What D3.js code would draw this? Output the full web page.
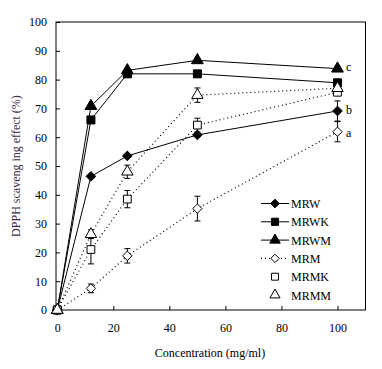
<!DOCTYPE html>
<html><head><meta charset="utf-8">
<script src="https://cdn.jsdelivr.net/npm/d3@7"></script>
<style>body{margin:0;background:#fff}svg{display:block}svg text{font-family:"Liberation Serif","Times New Roman",serif !important}</style>
</head><body>
<script>
const concentrations = [0, 12, 25, 50, 100];
const seriesNames = ["MRW", "MRWK", "MRWM", "MRM", "MRMK", "MRMM"];
const MRW  = [0, 46.4, 53.5, 60.8, 69.1];
const MRWK = [0, 66, 82, 82, 78.9];
const MRWM = [0, 70.8, 83.2, 86.7, 83.8];
const MRM  = [0, 7.5, 18.8, 35.2, 61.9];
const MRMK = [0, 21, 38.5, 64.2, 75.6];
const MRMM = [0, 26.3, 48, 74.6, 77];
const errMRW  = [0, 0, 0, 0, 3.5];
const errMRWK = [0, 0, 0, 0, 0];
const errMRWM = [0, 0, 0, 0, 0];
const errMRM  = [0, 1.5, 2.5, 4.3, 3.5];
const errMRMK = [0, 5, 3, 2.4, 0];
const errMRMM = [0, 1.5, 2.3, 2.5, 0];
const xTicks = [0, 20, 40, 60, 80, 100];
const yTicks = [0, 10, 20, 30, 40, 50, 60, 70, 80, 90, 100];
const sigLetters = ["c", "b", "a"];
const sigValues = [84.5, 69.5, 61.5];

const FONT = "Liberation Serif, Times New Roman, serif";
const series = [
  {name:"MRW", v:MRW, e:errMRW, sym:d3.symbolDiamond2, fill:"#000", dash:null},
  {name:"MRWK", v:MRWK, e:errMRWK, sym:d3.symbolSquare, fill:"#000", dash:null},
  {name:"MRWM", v:MRWM, e:errMRWM, sym:d3.symbolTriangle, fill:"#000", dash:null},
  {name:"MRM", v:MRM, e:errMRM, sym:d3.symbolDiamond2, fill:"#fff", dash:"1,3"},
  {name:"MRMK", v:MRMK, e:errMRMK, sym:d3.symbolSquare, fill:"#fff", dash:"1,3"},
  {name:"MRMM", v:MRMM, e:errMRMM, sym:d3.symbolTriangle, fill:"#fff", dash:"1,3"}
];
const symSize = {"MRW":60, "MRWK":64, "MRWM":60, "MRM":56, "MRMK":60, "MRMM":56};

const W = 382, H = 369;
const svg = d3.select("body").append("svg").attr("width", W).attr("height", H)
  .attr("font-family", FONT);
const x = d3.scaleLinear().domain([0, 110]).range([57.3, 365.5]);
const y = d3.scaleLinear().domain([0, 100]).range([310, 22]);

svg.append("rect").attr("x", 56).attr("y", 22).attr("width", 365.5-56).attr("height", 288)
  .attr("fill", "none").attr("stroke", "#000").attr("stroke-width", 1);

const xAxis = svg.append("g").attr("transform", "translate(0,310)")
  .call(d3.axisBottom(x).tickValues(xTicks).tickSizeInner(-4).tickSizeOuter(0).tickPadding(13));
xAxis.attr("font-family", FONT);
xAxis.select(".domain").remove();
xAxis.selectAll("text").attr("font-size", 12).attr("fill", "#000").attr("font-family", FONT);
const yAxis = svg.append("g").attr("transform", "translate(56,0)")
  .call(d3.axisLeft(y).tickValues(yTicks).tickSizeInner(-4).tickSizeOuter(0).tickPadding(9));
yAxis.attr("font-family", FONT);
yAxis.select(".domain").remove();
yAxis.selectAll("text").attr("font-size", 12).attr("fill", "#000").attr("font-family", FONT);

svg.append("text").attr("x", 210).attr("y", 357).attr("text-anchor", "middle")
  .attr("font-size", 12).attr("font-family", FONT).text("Concentration (mg/ml)");
svg.append("text").attr("transform", "translate(20,166) rotate(-90)").attr("text-anchor", "middle")
  .attr("font-size", 12).attr("font-family", FONT).attr("fill", "#3a2a4a").text("DPPH scaveng ing effect (%)");

const line = d3.line().x((d,i)=>x(concentrations[i])).y(d=>y(d));
series.forEach(s => {
  svg.append("path").datum(s.v).attr("d", line).attr("fill", "none").attr("stroke", "#000")
    .attr("stroke-width", s.dash ? 1.2 : 1).attr("stroke-dasharray", s.dash);
});
series.forEach(s => {
  const g = svg.append("g");
  s.v.forEach((v,i) => {
    const e = s.e[i];
    if (e > 0) {
      const cx = x(concentrations[i]);
      g.append("line").attr("x1", cx).attr("x2", cx).attr("y1", y(v+e)).attr("y2", y(v-e)).attr("stroke", "#000");
      g.append("line").attr("x1", cx-3).attr("x2", cx+3).attr("y1", y(v+e)).attr("y2", y(v+e)).attr("stroke", "#000");
      g.append("line").attr("x1", cx-3).attr("x2", cx+3).attr("y1", y(v-e)).attr("y2", y(v-e)).attr("stroke", "#000");
    }
  });
  s.v.forEach((v,i) => {
    g.append("path").attr("d", d3.symbol().type(s.sym).size(symSize[s.name])())
      .attr("transform", `translate(${x(concentrations[i])},${y(v)})`)
      .attr("fill", s.fill).attr("stroke", "#000").attr("stroke-width", 1);
  });
});

sigLetters.forEach((t,i) => {
  svg.append("text").attr("x", 346).attr("y", y(sigValues[i]) + 4).attr("font-size", 12)
    .attr("font-family", FONT).text(t);
});

const leg = svg.append("g");
series.forEach((s,i) => {
  const ly = 203.5 + i*18.3;
  if (i < 4) {
    leg.append("line").attr("x1", 261).attr("x2", 289).attr("y1", ly).attr("y2", ly)
      .attr("stroke", "#000").attr("stroke-width", s.dash ? 1.2 : 1).attr("stroke-dasharray", s.dash);
  }
  leg.append("path").attr("d", d3.symbol().type(s.sym).size(symSize[s.name]*0.8)())
    .attr("transform", `translate(275,${ly})`).attr("fill", s.fill).attr("stroke", "#000");
  leg.append("text").attr("x", 291).attr("y", ly + 4.5).attr("font-size", 12)
    .attr("font-family", FONT).text(s.name);
});
</script>
</body></html>
